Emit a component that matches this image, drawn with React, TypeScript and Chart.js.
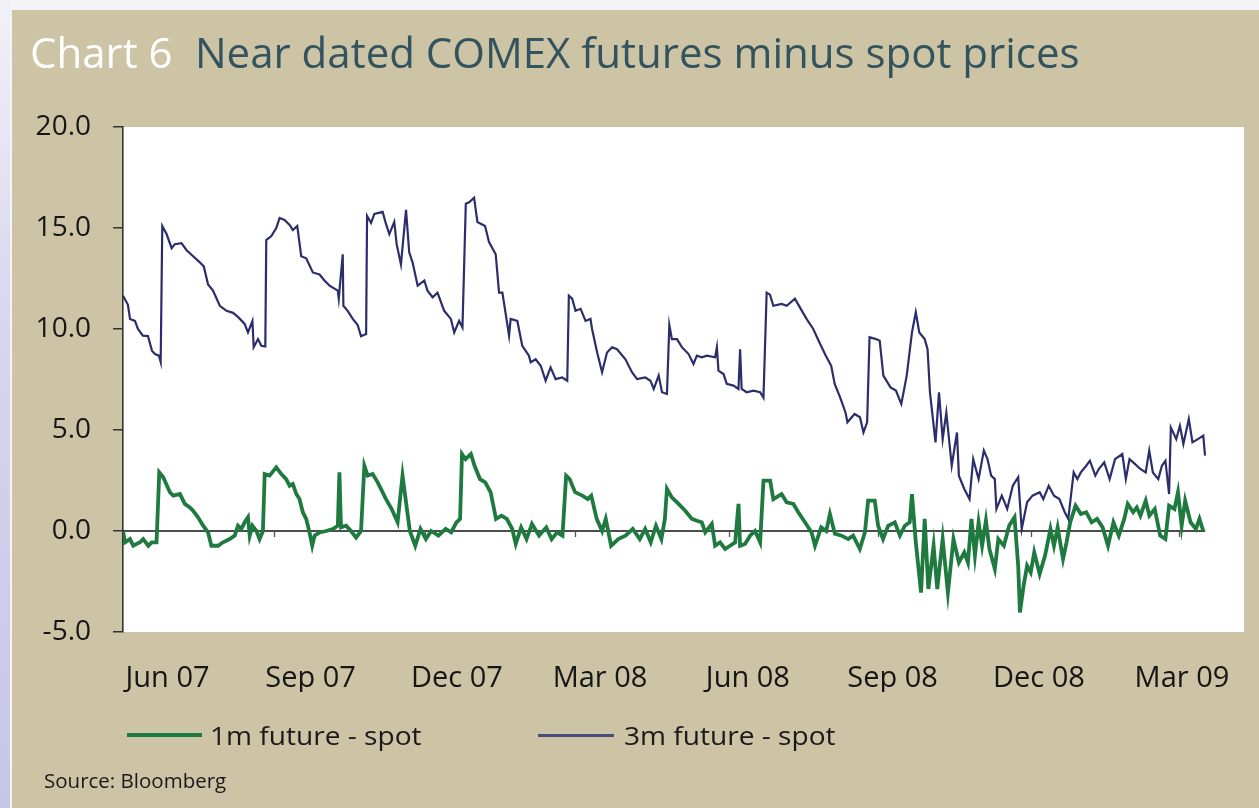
import React, { useEffect, useRef } from "react";
import { Chart, registerables } from "chart.js";

Chart.register(...registerables);

// x positions are day offsets from the start of the sample (mid-May 2007)
const xTickDays = [28, 118, 210, 300, 393, 484, 576, 666];
const xTickLabels = ["Jun 07", "Sep 07", "Dec 07", "Mar 08", "Jun 08", "Sep 08", "Dec 08", "Mar 09"];
const zeroLineTickDays = [95, 190, 284, 381, 475, 571, 664];
const yTicks = [-5, 0, 5, 10, 15, 20];
const seriesNames = ["1m future - spot", "3m future - spot"];

// [day, value]
const threeMonthSeries: number[][] = [
  [0, 11.65], [3.1, 11.2], [4.4, 10.5], [7.5, 10.4], [9.4, 10.0], [12.5, 9.67], [15.7, 9.65], [18.2, 8.93], [20.1, 8.76], [22.6, 8.68], [23.7, 8.36],
  [24.7, 15.1], [27.4, 14.7], [30.6, 14.0], [32.6, 14.2], [36.8, 14.25], [40.0, 13.9], [44.1, 13.6], [48.3, 13.3], [50.8, 13.1], [53.5, 12.2], [56.6, 11.9], [60.9, 11.15], [65.1, 10.9], [69.2, 10.8], [72.3, 10.6], [76.5, 10.25], [78.6, 9.83], [81.4, 10.4], [82.2, 9.1], [84.9, 9.5], [87.0, 9.17], [89.5, 9.14],
  [90.1, 14.4], [93.3, 14.6], [96.4, 15.0], [98.5, 15.5], [101.6, 15.4], [104.8, 15.15], [106.8, 14.9], [109.6, 15.1], [112.1, 13.6], [115.2, 13.5], [119.4, 12.8], [123.6, 12.7], [126.7, 12.4], [129.9, 12.15], [133.0, 12.0], [135.1, 11.9], [135.7, 11.5], [138.2, 13.7], [138.6, 11.15], [141.3, 10.9], [144.5, 10.5], [147.6, 10.2], [149.7, 9.64], [152.9, 9.75],
  [153.5, 15.6], [156.0, 15.25], [158.1, 15.7], [163.3, 15.8], [165.4, 15.2], [167.5, 14.7], [170.6, 15.3], [172.1, 14.2], [174.8, 13.2], [178.0, 15.9], [180.0, 13.8], [182.1, 13.3], [185.3, 12.15], [189.5, 12.4], [191.5, 11.9], [194.7, 11.57], [197.8, 11.8], [202.0, 10.9], [206.2, 10.5], [208.3, 9.83], [211.4, 10.4], [213.5, 10.08],
  [215.6, 16.2], [217.7, 16.27], [220.8, 16.5], [222.9, 15.3], [227.7, 15.1], [230.2, 14.3], [234.4, 13.7], [236.5, 11.8], [238.6, 11.8], [242.8, 9.67], [243.8, 10.5], [248.0, 10.4], [251.1, 9.17], [255.3, 8.68], [256.4, 8.35], [259.5, 8.5], [262.7, 8.18], [265.8, 7.44], [268.9, 8.1], [272.1, 7.52], [276.2, 7.6], [279.4, 7.44],
  [280.4, 11.65], [282.5, 11.5], [284.6, 10.9], [287.8, 11.0], [290.9, 10.4], [294.0, 10.5], [295.0, 10.0], [298.2, 8.84], [301.3, 7.86], [304.4, 8.84], [307.6, 9.1], [310.7, 9.0], [316.0, 8.5], [320.1, 7.86], [323.3, 7.52], [328.5, 7.6], [331.7, 7.44], [333.8, 7.03], [336.9, 7.7], [339.0, 6.87], [342.1, 6.78],
  [343.6, 10.2], [345.2, 9.5], [348.4, 9.5], [351.5, 9.1], [355.7, 8.76], [358.8, 8.27], [360.9, 8.68], [364.0, 8.6], [367.2, 8.68], [372.4, 8.6], [373.5, 9.1], [374.5, 7.94], [377.7, 7.77], [379.7, 7.28], [383.9, 7.2], [387.1, 7.03], [388.1, 9.0], [389.1, 7.03], [392.2, 6.87], [396.5, 6.95], [400.7, 6.87], [402.8, 6.6],
  [404.8, 11.8], [406.9, 11.7], [409.0, 11.15], [414.2, 11.24], [417.4, 11.15], [422.6, 11.5], [425.7, 11.07], [429.9, 10.5], [434.1, 10.0], [437.5, 9.42], [442.0, 8.68], [445.4, 8.18], [447.6, 7.28], [451.0, 6.62], [454.4, 5.87], [455.6, 5.38], [460.1, 5.79], [463.5, 5.63], [465.7, 4.88], [468.0, 5.38],
  [469.5, 9.59], [473.6, 9.5], [475.9, 9.42], [478.2, 7.69], [482.7, 7.11], [486.1, 6.95], [489.5, 6.29], [492.9, 7.69], [496.2, 9.83], [498.6, 10.83], [500.8, 9.83], [504.2, 9.5], [506.0, 9.0], [507.5, 6.87], [511.0, 4.39], [513.2, 6.87], [515.5, 4.55], [517.8, 5.87], [521.2, 3.23], [524.5, 4.88], [525.7, 2.74], [529.1, 2.08], [532.4, 1.58], [534.7, 3.56], [538.1, 2.57], [541.4, 3.98], [543.7, 3.56], [546.0, 2.74], [548.3, 2.57], [549.3, 1.09], [552.7, 1.75], [556.1, 1.09], [559.6, 2.24], [563.0, 2.66], [565.2, 0.1], [568.6, 1.42], [572.0, 1.75], [576.5, 1.92], [578.8, 1.58], [582.2, 2.24], [585.5, 1.75], [588.9, 1.58], [592.3, 0.93], [594.5, 0.6],
  [597.9, 2.9], [600.2, 2.57], [602.4, 2.9], [605.8, 3.23], [608.1, 3.48], [611.5, 2.74], [613.7, 3.07], [617.1, 3.4], [620.5, 2.57], [623.9, 3.56], [628.5, 3.81], [630.7, 2.57], [633.0, 3.56], [636.4, 3.32], [639.8, 3.07], [643.2, 2.9], [645.4, 3.98], [647.7, 2.9], [651.1, 2.57], [653.4, 3.23], [655.6, 3.48], [657.9, 1.83], [659.0, 5.13], [662.4, 4.55], [664.7, 5.21], [666.9, 4.31], [670.3, 5.54], [672.6, 4.39], [676.0, 4.55], [679.4, 4.72], [680.5, 3.73],
];

const oneMonthSeries: number[][] = [
  [0, 0.0], [1.3, -0.56], [4.4, -0.4], [6.5, -0.73], [10.7, -0.56], [12.7, -0.4], [15.9, -0.73], [18.0, -0.56], [21.1, -0.56],
  [22.8, 2.9], [25.3, 2.66], [29.5, 1.92], [31.6, 1.75], [35.8, 1.83], [38.9, 1.34], [42.0, 1.17], [44.1, 1.0], [47.2, 0.68], [50.4, 0.26], [53.5, -0.07], [55.6, -0.73], [59.8, -0.73], [62.9, -0.56], [67.1, -0.4], [70.3, -0.23], [72.3, 0.26], [74.4, 0.1], [76.5, 0.43], [78.6, 0.68], [79.7, -0.23], [81.4, 0.26], [83.9, 0.0], [85.9, -0.4], [88.0, 0.0],
  [89.1, 2.82], [92.2, 2.74], [96.4, 3.15], [99.6, 2.82], [102.6, 2.57], [104.8, 2.24], [106.8, 2.33], [109.0, 1.83], [111.0, 1.58], [113.1, 0.93], [115.2, 0.6], [117.3, -0.07], [119.0, -0.73], [120.5, -0.23], [123.6, -0.07], [127.8, 0.0], [131.9, 0.1], [135.1, 0.26], [136.1, 2.9], [137.1, 0.18], [140.3, 0.26], [143.4, 0.0], [146.6, -0.33], [149.7, 0.0],
  [151.8, 3.23], [153.9, 2.74], [157.0, 2.82], [160.2, 2.41], [165.4, 1.58], [168.9, 1.1], [172.7, 0.43], [175.8, 2.74], [180.4, 0.0], [183.8, -0.73], [187.1, 0.1], [190.5, -0.4], [193.8, 0.0], [198.4, -0.23], [202.9, 0.1], [206.4, -0.07], [209.7, 0.43], [212.0, 0.6],
  [213.2, 3.81], [215.4, 3.56], [218.8, 3.81], [221.1, 3.23], [224.5, 2.57], [227.8, 2.41], [231.2, 1.92], [234.6, 0.6], [238.0, 0.76], [241.4, 0.6], [244.8, 0.1], [247.0, -0.64], [250.4, 0.18], [253.8, -0.4], [257.2, 0.35], [261.7, -0.23], [266.2, 0.18], [269.6, -0.4], [273.0, -0.07], [276.4, -0.23],
  [278.7, 2.74], [280.9, 2.57], [284.3, 1.92], [288.9, 1.75], [292.3, 1.58], [294.5, 1.75], [297.9, 0.6], [301.3, 0.0], [303.6, 0.6], [307.0, -0.73], [311.5, -0.4], [316.0, -0.23], [320.6, 0.1], [325.0, -0.4], [328.4, 0.1], [331.9, -0.56], [335.2, 0.26], [338.6, -0.4], [340.8, 0.6],
  [342.1, 2.08], [345.0, 1.68], [349.4, 1.34], [353.6, 1.0], [357.8, 0.6], [360.9, 0.51], [364.0, 0.43], [366.2, -0.07], [370.3, 0.35], [372.4, -0.73], [375.5, -0.56], [378.7, -0.89], [381.8, -0.73], [385.0, -0.56], [387.1, 1.34], [388.1, -0.73], [391.2, -0.64], [394.4, -0.23], [397.5, 0.0], [400.7, -0.56],
  [402.8, 2.49], [407.0, 2.49], [409.0, 1.58], [414.2, 1.83], [417.4, 1.42], [421.6, 1.34], [424.7, 0.93], [428.9, 0.43], [433.1, -0.07], [435.2, -0.73], [439.1, 0.18], [442.3, 0.0], [444.6, 0.84], [447.7, -0.13], [451.9, -0.23], [456.1, -0.4], [459.2, -0.23], [463.4, -0.89], [466.6, -0.07], [468.6, 1.5], [472.8, 1.5], [474.9, 0.26], [478.0, -0.4], [481.2, 0.26], [485.4, 0.43], [488.6, -0.23], [491.7, 0.26], [494.8, 0.43], [496.2, 1.83], [498.6, -0.56],
  [501.9, -3.05], [504.2, 0.6], [506.5, -2.87], [509.8, -0.73], [512.1, -2.87], [515.5, -0.4], [518.8, -3.05], [522.3, -0.4], [525.7, -1.56], [529.1, -1.06], [531.4, -1.56], [533.6, 0.6], [535.8, -1.22], [538.1, 0.43], [540.3, -0.73], [542.7, 0.51], [544.9, -0.89], [548.3, -1.88], [550.5, -0.4], [554.0, -0.73], [557.3, 0.26], [560.7, 0.68],
  [563.0, -1.72], [564.1, -4.03], [566.4, -2.71], [568.6, -1.72], [570.9, -2.05], [573.1, -1.06], [576.5, -2.13], [579.9, -1.22], [583.3, 0.1], [585.5, -0.73], [587.8, 0.18], [591.2, -1.39], [593.4, -0.56], [595.7, 0.43],
  [599.1, 1.25], [602.4, 0.84], [605.8, 0.93], [609.2, 0.43], [612.6, 0.6], [616.1, 0.18], [619.5, -0.73], [622.9, 0.43], [626.3, -0.23], [629.7, 0.6], [631.9, 1.34], [635.3, 0.93], [637.6, 1.17], [639.9, 0.76], [643.2, 1.5], [645.5, 0.76], [648.9, 1.09], [652.3, -0.23], [655.6, -0.4], [657.9, 1.25], [661.3, 1.09], [663.5, 1.92], [665.8, 0.26], [668.0, 1.5], [671.4, 0.43], [674.8, 0.1], [677.0, 0.6], [679.4, 0.0],
];

const GREEN = "#1f7a40";
const NAVY = "#2c2e6c";
const TAN = "#cdc3a5";
const FONT = "'Open Sans', 'DejaVu Sans', sans-serif";

const plotBackground = {
  id: "plotBackground",
  beforeDraw(chart: any) {
    const { ctx, chartArea: a } = chart;
    ctx.save();
    ctx.fillStyle = "#ffffff";
    ctx.fillRect(a.left, a.top, a.right - a.left, a.bottom - a.top);
    ctx.restore();
  },
};

const zeroLine = {
  id: "zeroLine",
  beforeDatasetsDraw(chart: any) {
    const { ctx, chartArea: a, scales } = chart;
    const y = scales.y.getPixelForValue(0);
    const lastDay = oneMonthSeries[oneMonthSeries.length - 1][0];
    const xEnd = scales.x.getPixelForValue(lastDay) + 2;
    ctx.save();
    ctx.strokeStyle = "#111111";
    ctx.lineWidth = 1.6;
    ctx.beginPath();
    ctx.moveTo(a.left, y);
    ctx.lineTo(xEnd, y);
    ctx.stroke();
    ctx.strokeStyle = "#555555";
    ctx.lineWidth = 1.3;
    for (const d of zeroLineTickDays) {
      const x = Math.round(scales.x.getPixelForValue(d)) + 0.5;
      ctx.beginPath();
      ctx.moveTo(x, y);
      ctx.lineTo(x, y + 6);
      ctx.stroke();
    }
    ctx.restore();
  },
};

function ChartCanvas() {
  const ref = useRef<HTMLCanvasElement | null>(null);
  useEffect(() => {
    if (!ref.current) return;
    const chart = new Chart(ref.current, {
      type: "line",
      data: {
        datasets: [
          {
            label: seriesNames[1],
            data: threeMonthSeries.map((p) => ({ x: p[0], y: p[1] })),
            borderColor: NAVY,
            borderWidth: 2.2,
            pointRadius: 0,
            tension: 0,
            fill: false,
          },
          {
            label: seriesNames[0],
            data: oneMonthSeries.map((p) => ({ x: p[0], y: p[1] })),
            borderColor: GREEN,
            borderWidth: 3.8,
            pointRadius: 0,
            tension: 0,
            fill: false,
          },
        ],
      },
      options: {
        animation: false,
        responsive: false,
        devicePixelRatio: 1,
        layout: { padding: { left: 0, top: 127, right: 12, bottom: 116 } },
        plugins: {
          legend: { display: false },
          title: { display: false },
          tooltip: { enabled: false },
        },
        scales: {
          x: {
            type: "linear",
            min: 0,
            max: 705,
            afterBuildTicks: (scale: any) => {
              scale.ticks = xTickDays.map((v) => ({ value: v }));
            },
            afterFit: (scale: any) => {
              scale.height = 60;
            },
            grid: { display: false, drawTicks: false },
            border: { display: false },
            ticks: {
              autoSkip: false,
              maxRotation: 0,
              padding: 29,
              color: "#161616",
              font: { family: FONT, size: 29 },
              callback: (_v: any, i: number) => xTickLabels[i] ?? "",
            },
          },
          y: {
            type: "linear",
            min: -5,
            max: 20,
            afterBuildTicks: (scale: any) => {
              scale.ticks = yTicks.map((v) => ({ value: v }));
            },
            afterFit: (scale: any) => {
              scale.width = 123;
            },
            grid: {
              drawOnChartArea: false,
              drawTicks: true,
              tickLength: 10,
              color: "#333333",
              lineWidth: 1.5,
            },
            border: { display: true, color: "#333333", width: 1.6 },
            ticks: {
              padding: 22,
              color: "#161616",
              font: { family: FONT, size: 28 },
              callback: (v: any) => Number(v).toFixed(1),
            },
          },
        },
      },
      plugins: [plotBackground, zeroLine],
    } as any);
    return () => chart.destroy();
  }, []);
  return (
    <canvas
      ref={ref}
      width={1259}
      height={808}
      style={{ position: "absolute", left: 0, top: 0, width: 1259, height: 808 }}
    />
  );
}

const textBase: React.CSSProperties = {
  position: "absolute",
  fontFamily: FONT,
  lineHeight: 1,
  whiteSpace: "nowrap",
  margin: 0,
};

export default function App() {
  return (
    <div
      style={{
        position: "absolute",
        left: 0,
        top: 0,
        width: 1259,
        height: 808,
        overflow: "hidden",
        background: "#f3f3f8",
      }}
    >
      <div
        style={{
          position: "absolute",
          left: 0,
          top: 0,
          width: 10,
          height: 808,
          background: "linear-gradient(to bottom, #f1f1f8 0%, #d6d6ee 40%, #c6c6e6 100%)",
        }}
      />
      <div
        style={{
          position: "absolute",
          left: 12,
          top: 10,
          width: 1259 - 12,
          height: 808 - 10,
          background: TAN,
        }}
      />
      <ChartCanvas />
      <div style={{ ...textBase, left: 30, top: 31, fontSize: 42, color: "#ffffff" }}>Chart 6</div>
      <div style={{ ...textBase, left: 195, top: 31, fontSize: 42, color: "#33545e" }}>
        Near dated COMEX futures minus spot prices
      </div>
      <div style={{ position: "absolute", left: 127, top: 733, width: 75, height: 4, background: GREEN }} />
      <div
        style={{
          ...textBase,
          left: 210,
          top: 722,
          fontSize: 26,
          color: "#1a1a1a",
          transform: "scaleX(1.08)",
          transformOrigin: "left top",
        }}
      >
        {seriesNames[0]}
      </div>
      <div style={{ position: "absolute", left: 538, top: 734, width: 76, height: 2.5, background: "#4a4c80" }} />
      <div
        style={{
          ...textBase,
          left: 624,
          top: 722,
          fontSize: 26,
          color: "#1a1a1a",
          transform: "scaleX(1.08)",
          transformOrigin: "left top",
        }}
      >
        {seriesNames[1]}
      </div>
      <div style={{ ...textBase, left: 44, top: 770, fontSize: 20.5, color: "#1a1a1a" }}>Source: Bloomberg</div>
    </div>
  );
}
